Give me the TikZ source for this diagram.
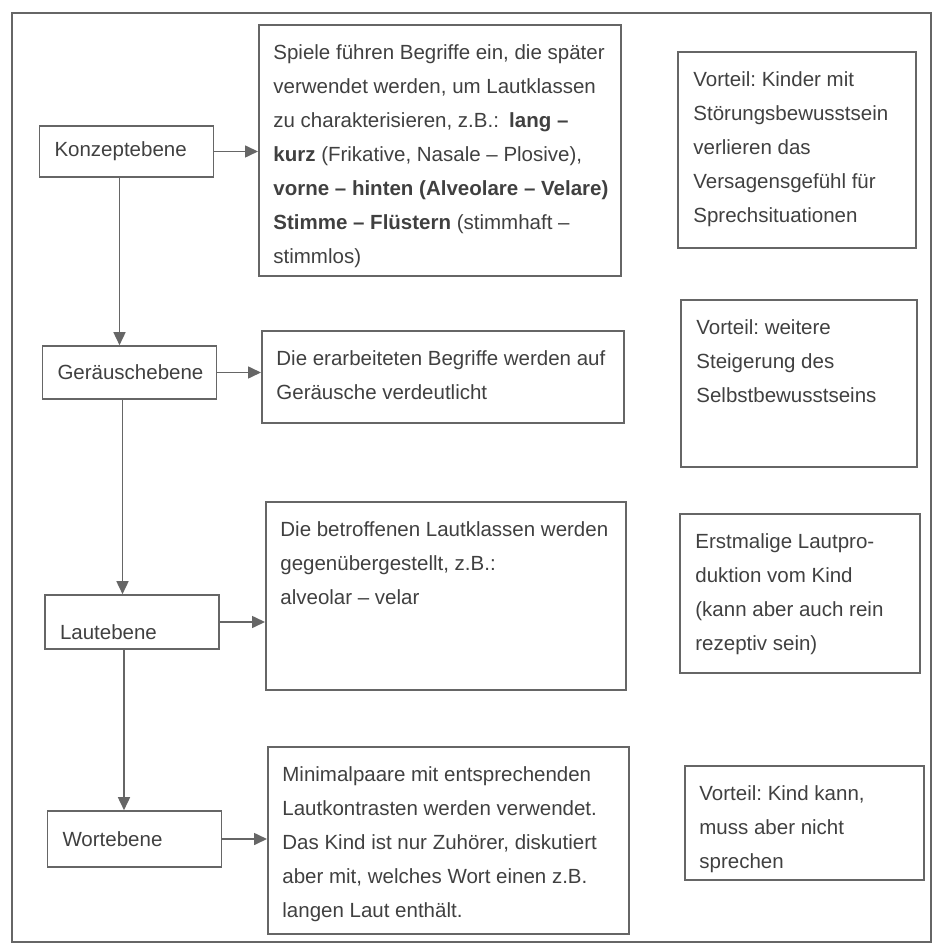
\documentclass[tikz,border=0pt]{standalone}
\usepackage{fontspec}
\setmainfont{Liberation Sans}
\usetikzlibrary{arrows.meta,positioning}
\frenchspacing

\begin{document}
\begin{tikzpicture}[x=0.5pt,y=-0.5pt,
	font=\fontsize{10.25}{17}\selectfont,
	ebene/.style={draw=black!60, line width=0.8pt, text=black!75,
		minimum width=87pt, text width=72pt, inner xsep=7.5pt,
		align=left},
	kasten/.style={draw=black!60, line width=0.8pt, anchor=north west,
		inner sep=0pt},
	txt/.style={anchor=north west, align=left, inner sep=0pt,
		text=black!75},
	pfeil/.style={draw=black!60, line width=0.8pt,
		-{Triangle[length=6.5pt,width=6pt]}}]

\useasboundingbox (0,0) rectangle (934,945);

% outer frame
\draw[black!60, line width=0.8pt] (12,13) rectangle (931,942);

% levels
\node[ebene, minimum height=25.5pt] at (126.5,151.5) (konzept) {Konzeptebene};
\node[ebene, minimum height=26.5pt] at (129.5,372.5) (geraeusch) {Geräuschebene};
\node[ebene, minimum height=27pt, text height=17pt, text depth=0pt]
	at (132,622) (laut) {Lautebene};
\node[ebene, minimum height=28pt] at (134.5,839) (wort) {Wortebene};

% middle column
\node[kasten, minimum width=181pt, minimum height=125.5pt] at (258,24) (inhaltA) {};
\node[kasten, minimum width=181pt, minimum height=46pt] at (261,330) (inhaltB) {};
\node[kasten, minimum width=180pt, minimum height=94pt] at (265,501) (inhaltC) {};
\node[kasten, minimum width=180.5pt, minimum height=93.5pt] at (267,746) (inhaltD) {};

\node[txt] at ([shift={(15,20)}]inhaltA.north west) (inhaltAtext)
	{Spiele führen Begriffe ein, die später\\
	verwendet werden, um Lautklassen\\
	zu charakterisieren, z.B.:\enspace\textbf{lang –}\\
	\textbf{kurz} (Frikative, Nasale – Plosive),\\
	\textbf{vorne – hinten (Alveolare – Velare)}\\
	\textbf{Stimme – Flüstern} (stimmhaft –\\
	stimmlos)};
\node[txt] at ([shift={(15,20)}]inhaltB.north west) (inhaltBtext)
	{Die erarbeiteten Begriffe werden auf\\
	Geräusche verdeutlicht};
\node[txt] at ([shift={(15,20)}]inhaltC.north west) (inhaltCtext)
	{Die betroffenen Lautklassen werden\\
	gegenübergestellt, z.B.:\\
	alveolar – velar};
\node[txt] at ([shift={(15,20)}]inhaltD.north west) (inhaltDtext)
	{Minimalpaare mit entsprechenden\\
	Lautkontrasten werden verwendet.\\
	Das Kind ist nur Zuhörer, diskutiert\\
	aber mit, welches Wort einen z.B.\\
	langen Laut enthält.};

% right column
\node[kasten, minimum width=119pt, minimum height=98pt] at (677,51) (vorteilA) {};
\node[kasten, minimum width=118pt, minimum height=83.5pt] at (680,299) (vorteilB) {};
\node[kasten, minimum width=120pt, minimum height=79.5pt] at (679,513) (vorteilC) {};
\node[kasten, minimum width=119.5pt, minimum height=57pt] at (684,765) (vorteilD) {};

\node[txt] at ([shift={(16,20)}]vorteilA.north west) (vorteilAtext)
	{Vorteil: Kinder mit\\
	Störungsbewusstsein\\
	verlieren das\\
	Versagensgefühl für\\
	Sprechsituationen};
\node[txt] at ([shift={(16,20)}]vorteilB.north west) (vorteilBtext)
	{Vorteil: weitere\\
	Steigerung des\\
	Selbstbewusstseins};
\node[txt] at ([shift={(16,20)}]vorteilC.north west) (vorteilCtext)
	{Erstmalige Lautpro-\\
	duktion vom Kind\\
	(kann aber auch rein\\
	rezeptiv sein)};
\node[txt] at ([shift={(15,20)}]vorteilD.north west) (vorteilDtext)
	{Vorteil: Kind kann,\\
	muss aber nicht\\
	sprechen};

% arrows down
\draw[pfeil] ([xshift=-3.5pt]konzept.south) -- ([xshift=-3.5pt]konzept.south |- geraeusch.north);
\draw[pfeil] ([xshift=-3.5pt]geraeusch.south) -- ([xshift=-3.5pt]geraeusch.south |- laut.north);
\draw[pfeil] ([xshift=-4pt]laut.south) -- ([xshift=-4pt]laut.south |- wort.north);

% arrows right
\draw[pfeil] (konzept.east) -- (konzept.east -| inhaltA.west);
\draw[pfeil] (geraeusch.east) -- (geraeusch.east -| inhaltB.west);
\draw[pfeil] (laut.east) -- (laut.east -| inhaltC.west);
\draw[pfeil] (wort.east) -- (wort.east -| inhaltD.west);

\end{tikzpicture}
\end{document}
